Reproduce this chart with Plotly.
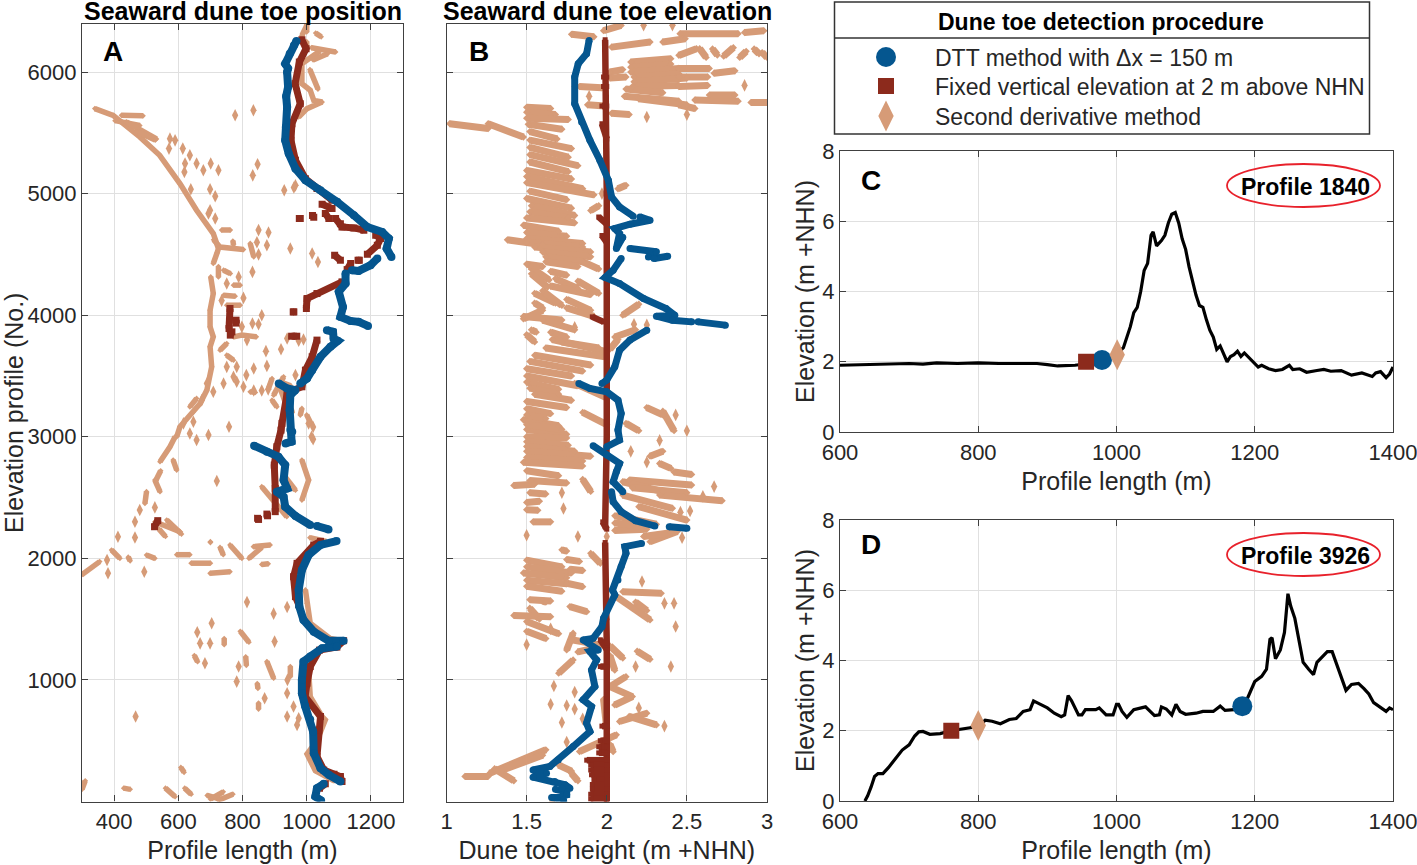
import plotly.graph_objects as go

# ---------- Panel A: dune toe position (profile length m, profile no.) ----------
blue_a = [
 [(968,6255),(960,6219),(947,6150),(933,6068),(942,6030),(939,6000),(942,5877),(936,5800),(939,5712),(935,5548),(933,5438),(944,5329),(965,5205),(996,5110),(1043,5027),(1095,4932),(1147,4822),(1189,4726),(1235,4685),(1256,4630),(1249,4548),(1264,4479)],
 [(1220,4466),(1199,4411),(1162,4364),(1141,4370)],
 [(1121,4342),(1121,4260),(1100,4192),(1113,4068),(1105,3986),(1136,3953),(1162,3945),(1191,3912)],
 [(1063,3877),(1082,3863),(1084,3808),(1097,3789),(1074,3740),(1043,3658),(1017,3548),(1001,3480),(980,3438)],
 [(913,3438),(939,3397),(965,3384),(949,3342),(947,3219),(949,3055),(955,3041),(953,2960),(934,2945)],
 [(836,2926),(876,2877),(912,2836),(933,2767),(928,2644),(939,2575),(907,2548),(928,2507),(933,2425),(965,2348),(1011,2274)],
 [(1032,2266),(1068,2238)],
 [(1093,2142),(1043,2110),(1006,2027),(985,1904),(975,1740),(977,1603),(990,1493),(1022,1397),(1068,1323),(1115,1323)],
 [(1094,1274),(1048,1260),(1011,1192),(990,1151),(985,1000),(985,890),(995,785),(1011,675),(1020,575),(1022,397),(1043,274),(1069,219),(1105,164)],
 [(1053,145),(1032,110),(1027,41),(1045,8)],
]
red_a = [
 [(985,6266),(998,6192),(977,6082),(964,5904),(980,5740),(954,5575),(951,5438),(965,5274),(996,5123),(1032,5041),(1079,4945)],
 [(1048,4912),(1079,4877)],[(1058,4836),(1069,4795)],[(977,4795),(980,4795)],[(1018,4820),(1022,4805)],
 [(1090,4795),(1105,4753),(1110,4726),(1147,4718),(1178,4699)],
 [(1215,4658),(1230,4630),(1220,4575),(1189,4501)],
 [(1087,4493),(1105,4452)],[(1160,4452),(1164,4452)],[(1137,4425),(1126,4375)],
 [(1110,4274),(1032,4178),(1001,4137),(999,4055)],[(958,4027),(960,4027)],
 [(761,4055),(758,3890)],[(780,3959),(780,3935)],[(767,3863),(762,3836)],
 [(953,3827),(969,3827)],
 [(1032,3795),(1017,3658),(996,3548),(985,3411),(960,3384),(939,3356),(923,3110),(920,3055),(907,2918),(899,2767),(902,2575),(902,2384)],
 [(876,2364),(878,2350)],[(847,2329),(850,2320)],[(526,2260),(536,2310)],
 [(1043,2140),(1022,2110),(970,1959),(959,1849),(965,1685),(975,1620)],
 [(1115,1323),(1094,1270),(1040,1245),(1011,1110),(1001,973),(995,863),(1043,699),(1038,589),(1032,370),(1053,260),(1085,225),(1105,205),(1110,164)],
 [(1058,145),(1040,110)],
]
peach_a = [
 [(340,5699),(397,5644),(480,5466),(542,5315),(605,5082),(657,4863),(709,4671),(725,4548),(720,4507),(709,4425)],
 [(423,5644),(490,5640)],[(403,5600),(480,5560)],[(438,5590),(532,5450)],[(470,5510),(528,5440)],
 [(725,4400),(725,4315)],[(701,4315),(709,4178),(699,4041),(699,3904),(709,3822),(699,3740),(704,3575),(689,3384),(668,3274),(647,3205),(605,3082),(595,3000)],
 [(735,4700),(762,4700)],[(710,4620),(730,4560),(803,4540)],[(770,4610),(772,4580)],[(824,4590),(835,4480)],[(850,4500)],[(850,4700)],[(881,4680)],[(876,4575)],[(845,4600)],[(949,4548)],[(1017,4507)],[(1035,4438)],[(831,4356)],
 [(741,4370),(762,4342)],[(788,4315)],[(772,4247),(793,4247)],[(751,4260)],[(741,4164),(777,4156)],[(803,4142)],[(751,4082),(793,4082)],[(735,4120)],
 [(798,3904)],[(831,3932)],[(850,3926)],[(772,3822),(798,3836),(843,3822)],[(814,3795)],[(751,3767),(730,3712)],[(751,3671),(772,3630)],[(782,3575)],[(751,3575)],[(772,3493)],[(741,3438)],[(782,3452)],[(803,3411)],[(812,3507)],[(835,3561)],[(824,3370),(840,3365)],[(873,3704)],[(920,3720)],[(876,3583)],[(965,3507)],[(939,3808)],
 [(892,3479),(881,3397)],[(897,3342),(928,3493)],[(892,3301),(907,3246)],[(985,3233),(980,3178)],[(1006,3110)],[(945,3290),(955,3200)],
 [(657,3315),(636,3246)],[(689,3438)],[(709,3370)],[(673,3301)],[(647,3123)],[(616,3110)],[(758,3082)],[(636,3027)],[(657,2973)],[(694,3014)],[(720,2636)],
 [(590,3000),(574,2918),(543,2795)],[(584,2808),(595,2726)],[(527,2644),(543,2548)],[(501,2548),(496,2452)],[(527,2419)],[(480,2397)],[(465,2301)],[(545,2720),(530,2640)],
 [(860,2589),(938,2343)],[(985,2808),(1006,2644),(985,2479)],[(930,2680),(965,2560)],[(1010,2170),(1060,2140)],
 [(527,2301),(605,2219)],[(564,2315),(610,2200)],[(540,2240),(560,2180)],
 [(298,1863),(355,1973)],[(392,2068),(418,2000)],[(444,2010),(450,1980)],[(501,2027),(527,2000)],[(595,2030),(636,2030)],[(700,2137),(700,2130)],[(730,2090),(740,2030)],[(761,2110),(798,2000)],[(834,2096),(886,2110)],[(820,2000),(860,2090)],[(699,1877),(761,1890)],[(640,1960),(700,1960)],[(860,1950),(880,1955)],
 [(996,1740),(1001,1630),(1011,1466),(1073,1342),(1115,1320)],[(1075,1290),(1040,1240),(1006,1082),(1011,863),(1048,699),(1058,671),(1032,500),(1001,390),(1027,252),(1085,170)],
 [(743,1340),(743,1290)],[(793,1400),(820,1310)],[(650,1200),(660,1150)],[(810,1190),(812,1120)],[(876,1151),(897,1014)],[(949,1110),(949,1027)],[(846,970),(848,930)],[(850,810),(850,760)],
 [(608,280),(618,240)],[(300,100),(310,170)],[(430,110),(450,100)],[(560,110),(590,40)],[(620,110),(640,60)],[(700,20),(740,80)],[(725,10),(770,60)],[(690,50),(730,20)],
 [(1000,6330),(1000,6395)],[(985,6300),(1000,6380)],[(1015,6200),(1090,6165)],[(1040,6170),(985,6068),(985,5904),(1011,5850),(1022,5767),(1048,5753),(1001,5699),(975,5630)],[(1028,6320),(1045,6290)],[(1020,6100),(1065,6150)],[(1010,6020),(1035,5860)],[(1000,6250),(1000,6200)],
 [(777,5644)],[(834,5685)],[(574,5452)],[(590,5438)],[(571,5370)],[(614,5370)],[(636,5315)],[(621,5247)],[(657,5247)],[(701,5247)],[(847,5241)],[(619,5178)],[(678,5192)],[(725,5192)],[(832,5150)],[(699,5036)],[(715,4978)],[(639,5036)],[(699,4863)],[(694,4836)],[(715,4795)],[(930,5027)],[(965,5068)],[(960,5050)],
 [(860,4000)],[(990,3800)],[(975,3790)],[(835,3380)],[(860,3380)],[(880,3390)],
 [(920,3450),(950,3420)],[(920,3380),(935,3270)],[(1000,3180),(1015,3100)],[(1020,3080)],[(1015,3000)],[(1020,2980)],
 [(412,2178)],[(465,2172)],[(381,1877)],[(378,1986)],[(494,1890)],[(814,1640)],[(939,1600)],[(897,1545)],[(659,1392)],[(704,1466)],[(668,1301)],[(699,1301)],[(900,1315)],[(683,1137)],[(788,1110)],[(782,986)],[(869,849)],[(939,890)],[(959,781)],[(939,699)],[(975,685)],[(970,630)],[(467,699)],[(940,1000)],
]

# ---------- Panel B: dune toe elevation (m +NHN, profile no.) ----------
blue_b = [
 [(1.89,6260),(1.874,6150),(1.822,6068),(1.80,5959),(1.80,5740),(1.843,5589),(1.895,5438),(1.957,5274),(2.01,5110),(2.03,4973),(2.08,4890),(2.165,4814)],
 [(2.207,4808),(2.27,4781),(2.145,4748),(2.05,4712),(2.08,4671),(2.06,4548),(2.10,4640)],
 [(2.145,4548),(2.31,4521),(2.26,4479)],[(2.295,4466),(2.38,4485)],
 [(2.09,4466),(2.04,4370),(1.99,4310),(2.08,4260),(2.23,4137),(2.37,4055),(2.425,4000),(2.31,3992),(2.41,3959),(2.53,3945)],
 [(2.57,3945),(2.74,3918)],
 [(2.25,3877),(2.145,3795),(2.08,3712),(2.05,3575),(2.0,3466),(1.97,3438)],
 [(1.826,3438),(1.895,3397),(2.0,3370),(2.07,3301),(2.09,3192),(2.07,3055),(2.08,2973),(2.0,2918)],
 [(1.915,2926),(2.0,2849),(2.08,2781),(2.06,2712),(2.04,2630),(2.10,2548)],
 [(2.03,2548),(2.04,2466),(2.09,2384),(2.18,2310),(2.30,2266)],
 [(2.39,2260),(2.50,2247)],
 [(2.217,2123),(2.113,2096),(2.12,2041),(2.09,1932),(2.07,1822),(2.036,1740),(2.05,1699),(1.98,1507),(1.97,1438),(1.915,1342),(1.853,1329),(1.947,1247),(1.895,1233),(1.937,1164),(1.905,1082),(1.926,945),(1.853,836),(1.905,781),(1.874,644),(1.895,575),(1.79,452),(1.697,342),(1.645,288),(1.54,260),(1.624,233),(1.54,200),(1.676,164),(1.74,137),(1.77,110),(1.68,100),(1.75,80),(1.75,55),(1.656,33),(1.73,14),(1.72,110)],
]
red_b = [
 [(1.99,6265),(2.0,5000),(2.0,3000),(1.99,2260)],
 [(1.99,2130),(2.0,1300),(2.0,0)],
 [(1.97,5575),(2.0,5450)],[(1.95,4808),(2.0,4750)],[(1.97,4655),(2.0,4600)],[(1.91,3986),(1.98,3945)],[(1.975,2300),(2.0,2240)],
 [(1.96,500),(2.0,500)],[(1.95,450),(2.0,450)],[(1.95,400),(2.0,400)],[(1.875,340),(2.0,340)],[(1.9,300),(2.0,300)],[(1.9,260),(2.0,260)],[(1.905,220),(2.0,220)],[(1.92,180),(2.0,180)],[(1.91,140),(2.0,140)],[(1.91,100),(2.0,100)],[(1.9,60),(2.0,60)],[(1.9,20),(2.0,20)],
 [(1.98,5959),(2.0,5959)],[(1.98,5880),(2.0,5880)],[(1.97,5720),(2.0,5720)],[(1.96,1330),(2.0,1250)],[(1.96,1110),(2.0,1110)],[(1.97,620),(2.0,620)],
]
peach_b = [
 [(1.98,6340),(2.09,6383)],[(1.78,6310),(1.92,6290)],[(2.23,6385)],[(2.41,6385)],
 [(2.457,6315),(2.82,6315)],[(2.86,6325),(2.98,6340)],[(2.03,6205),(2.27,6247)],[(2.35,6247),(2.49,6274)],[(2.45,6137),(2.56,6192)],[(2.58,6192),(2.62,6120)],[(2.66,6190),(2.69,6140)],[(2.73,6130),(2.79,6200)],[(2.83,6120),(2.87,6170)],[(2.92,6190),(2.95,6150)],[(2.97,6160),(3.0,6120)],
 [(2.15,6082),(2.40,6110)],[(2.15,6040),(2.40,6065)],[(2.15,6000),(2.45,6030)],[(2.17,5960),(2.45,5985)],[(2.17,5920),(2.50,5950)],[(2.02,6000),(2.10,6020)],[(2.02,5950),(2.12,5960)],
 [(2.45,6030),(2.64,6030)],[(2.45,5960),(2.63,5960)],[(2.45,5880),(2.63,5890)],[(2.67,5990),(2.8,6010)],[(2.16,5880),(2.45,5890)],
 [(2.11,5800),(2.45,5760)],[(2.12,5860),(2.35,5830)],[(2.2,5780),(2.5,5730)],[(2.45,5730),(2.55,5700)],[(2.55,5770),(2.82,5760)],[(2.64,5810),(2.8,5810)],[(2.9,5750),(3.0,5750)],[(1.83,5880),(1.97,5870)],[(1.88,5730),(1.99,5720)],[(2.03,5660),(2.14,5650)],[(2.86,5890)],[(2.25,5630)],[(2.5,5650)],[(1.89,5800)],[(1.8,5880)],
 [(1.02,5575),(1.26,5535)],[(1.26,5575),(1.48,5465)],
 [(1.5,5710),(1.65,5700)],[(1.5,5670),(1.68,5650)],[(1.5,5620),(1.76,5610)],[(1.51,5570),(1.72,5530)],[(1.52,5510),(1.69,5450)],[(1.52,5440),(1.78,5370)],[(1.52,5380),(1.76,5300)],[(1.52,5320),(1.82,5230)],[(1.52,5260),(1.76,5180)],[(1.5,5190),(1.78,5120)],[(1.5,5140),(1.85,5040)],[(1.5,5090),(1.92,4990)],[(1.52,5020),(1.75,4950)],[(1.5,4960),(1.78,4880)],[(1.53,4900),(1.8,4820)],[(1.52,4850),(1.76,4800)],[(1.5,4800),(1.8,4760)],[(1.48,4740),(1.7,4690)],[(1.5,4680),(1.75,4650)],[(1.38,4620),(1.6,4580)],[(1.5,4630),(1.85,4590)],[(1.5,4600),(1.85,4560)],[(1.55,4560),(1.9,4520)],[(1.6,4520),(1.9,4480)],[(1.62,4480),(1.85,4440)],[(1.62,4440),(1.82,4400)],
 [(1.52,4400),(1.64,4290)],[(1.53,4340),(1.63,4230)],[(1.5,4420),(1.6,4400)],[(1.65,4360),(1.75,4330)],[(1.85,4440),(1.95,4380)],[(1.68,4300),(1.82,4220)],[(1.55,4180),(1.68,4100)],[(1.75,4060),(1.92,3990)],[(1.82,4280),(1.95,4180)],[(1.65,4240),(1.9,4170)],[(1.6,4200),(1.72,4080)],[(1.75,4130),(1.9,4040)],[(1.55,4100),(1.6,4060)],[(1.48,3970),(1.6,4040)],[(1.48,3990),(1.72,3960)],[(1.6,3960),(1.8,3880)],[(1.53,3880),(1.56,3860)],[(1.65,3860),(1.75,3820)],[(1.72,3780),(1.95,3730)],[(1.5,3840),(1.55,3780)],[(1.66,3800),(2.0,3700)],[(1.62,3730),(1.98,3660)],[(1.55,3670),(1.9,3590)],[(1.52,3620),(1.85,3540)],[(1.5,3560),(1.78,3500)],[(1.5,3500),(1.82,3420)],[(1.5,3450),(1.7,3390)],[(1.52,3400),(1.7,3350)],[(1.8,3440),(2.0,3320)],[(1.5,3290),(1.75,3240)],[(1.5,3230),(1.65,3190)],[(1.48,3140),(1.7,3090)],[(1.5,3060),(1.75,3020)],[(1.85,3200),(2.0,3100)],[(1.55,3350),(1.78,3300)],[(1.5,3180),(1.62,3150)],[(1.5,3100),(1.72,3060)],
 [(2.07,5040),(2.12,5068)],[(1.95,4900),(1.9,4860)],[(1.97,5000)],[(2.05,3820),(2.18,3880)],[(2.25,3920)],[(2.17,3925)],[(2.35,3210),(2.42,3050)],[(2.25,3240),(2.35,3180)],[(2.5,3050)],[(2.43,3180)],[(2.12,3110),(2.2,3050)],[(2.1,4000),(2.2,4090)],[(1.8,3900)],[(2.02,3720),(2.07,3800)],
 [(1.5,3000),(1.75,2990)],[(1.5,2960),(1.76,2930)],[(1.5,2920),(1.8,2880)],[(1.5,2880),(1.9,2840)],[(1.5,2830),(1.85,2800)],[(1.48,2790),(1.85,2760)],[(1.5,2720),(1.7,2680)],[(1.52,2640),(1.75,2620)],[(1.42,2600),(1.55,2610)],[(1.52,2540),(1.62,2530)],[(1.5,2460),(1.58,2470)],[(1.5,2400),(1.57,2395)],[(1.54,2300),(1.65,2300)],[(1.72,2540)],[(1.85,2650),(1.9,2550)],[(1.73,2410)],[(1.5,2190)],[(1.82,2180)],
 [(2.33,2780),(2.40,2740)],[(2.14,2644),(2.53,2603)],[(2.10,2630),(2.35,2548)],[(2.42,2710),(2.53,2690)],[(2.16,2580),(2.50,2540)],[(2.33,2520),(2.72,2474)],[(2.10,2520),(2.41,2411)],[(2.2,2425),(2.5,2315)],[(2.27,2840),(2.35,2880)],[(2.25,2790)],[(2.15,2880)],[(2.33,2970)],[(2.67,2590)],[(2.6,2510)],[(2.52,2390)],[(2.46,2380)],
 [(2.05,2350),(2.31,2280)],[(2.05,2230),(2.25,2240)],[(2.05,2290),(2.25,2260)],[(2.27,2137),(2.44,2220)],[(2.23,2180),(2.4,2210)],[(2.0,2180)],[(2.47,2170)],
 [(1.72,2070),(1.75,2060)],[(1.75,1990),(1.83,1975)],[(1.9,2041),(1.96,1959)],[(1.77,1910),(1.85,1900)],[(1.75,1795),(1.85,1767)],[(1.77,1603),(1.875,1561)],
 [(1.5,1985),(1.72,1930)],[(1.5,1930),(1.78,1880)],[(1.48,1880),(1.75,1840)],[(1.5,1820),(1.75,1790)],[(1.5,1770),(1.72,1730)],[(1.52,1660),(1.65,1650)],[(1.6,1650),(1.62,1640)],[(1.52,1590),(1.58,1500)],[(1.42,1530),(1.65,1520)],[(1.5,1480),(1.7,1380)],[(1.5,1400),(1.62,1340)],[(1.5,1290)],[(1.65,1420)],
 [(2.10,1726),(2.34,1712)],[(2.06,1685),(2.27,1493)],[(2.18,1640),(2.25,1570)],[(2.36,1630)],[(2.42,1630)],[(2.22,1810)],[(2.43,1440)],[(2.0,1500)],
 [(1.79,1384),(1.75,1247)],[(1.78,1330),(1.95,1290)],[(1.82,1230),(1.95,1270)],[(1.70,1055),(1.79,1164)],[(2.02,1280),(2.1,1180)],[(2.05,1080),(2.02,1200)],[(2.19,1236),(2.27,1170)],[(2.18,1110)],[(2.4,1110)],[(1.67,950)],[(1.8,900)],
 [(2.12,1027),(2.02,945),(2.16,863),(2.05,794)],[(2.25,726),(2.08,658)],[(2.31,630),(2.14,700)],[(2.36,620)],[(1.98,840),(2.0,600)],[(2.2,770)],
 [(2.06,548),(1.83,411)],[(1.75,490)],[(2.02,470),(2.04,410)],
 [(1.62,425),(1.27,233)],[(1.115,206),(1.26,206)],[(1.3,270),(1.42,170)],[(1.6,380),(1.35,260)],[(1.78,230),(1.82,170)],[(1.66,5)],[(1.7,300),(1.78,250)],
 [(1.65,800)],[(1.72,650)],[(1.75,790)],[(1.8,760)],[(1.85,680)],
]

# ---------- Panels C and D: elevation profiles ----------
c_length = [600,650,700,720,740,770,790,800,830,850,870,885,900,915,940,960,980,1000,1010,1015,1020,1025,1030,1035,1040,1045,1050,1053,1058,1065,1070,1075,1080,1085,1090,1095,1100,1105,1110,1115,1120,1125,1130,1135,1140,1145,1150,1155,1160,1165,1170,1175,1180,1185,1190,1200,1205,1210,1220,1230,1240,1250,1255,1265,1275,1290,1300,1310,1325,1340,1355,1370,1375,1382,1390,1395,1400]
c_elev = [1.9,1.92,1.95,1.93,1.97,1.95,1.97,1.97,1.95,1.95,1.93,1.95,1.92,1.88,1.9,1.95,2.05,2.2,2.4,2.7,3.0,3.4,3.55,4.0,4.6,4.8,5.6,5.7,5.3,5.45,5.6,5.95,6.2,6.25,5.95,5.5,5.2,4.7,4.3,3.9,3.6,3.55,3.2,2.9,2.7,2.35,2.45,2.2,2.0,2.15,2.2,2.3,2.15,2.25,2.15,1.95,1.85,1.9,1.8,1.75,1.78,1.9,1.78,1.8,1.7,1.75,1.78,1.73,1.75,1.62,1.68,1.58,1.68,1.72,1.55,1.65,1.85]
d_length = [636,640,645,650,655,662,670,680,690,700,708,714,720,730,745,760,780,800,810,820,832,845,855,865,875,880,890,900,910,920,925,930,935,945,950,955,970,975,985,995,1000,1003,1008,1015,1025,1035,1042,1055,1062,1065,1072,1080,1086,1092,1100,1115,1125,1140,1150,1157,1170,1182,1190,1200,1210,1217,1222,1225,1230,1237,1243,1248,1252,1258,1265,1270,1278,1285,1290,1298,1305,1312,1318,1325,1332,1340,1350,1358,1365,1372,1385,1390,1395,1400]
d_elev = [0,0.15,0.4,0.7,0.78,0.78,0.95,1.2,1.45,1.6,1.85,1.97,1.98,1.9,1.92,2.0,2.05,2.12,2.3,2.27,2.2,2.32,2.35,2.55,2.6,2.85,2.75,2.65,2.5,2.4,2.45,3.0,2.85,2.45,2.45,2.6,2.6,2.65,2.45,2.45,2.75,2.75,2.55,2.38,2.6,2.65,2.68,2.43,2.45,2.68,2.62,2.45,2.75,2.55,2.47,2.5,2.55,2.55,2.7,2.58,2.6,2.7,2.95,3.4,3.55,3.75,4.6,4.65,4.05,4.3,4.8,5.9,5.55,5.2,4.5,3.95,3.75,3.6,3.95,4.1,4.25,4.25,3.9,3.5,3.15,3.32,3.35,3.2,3.05,2.8,2.6,2.55,2.65,2.6]
c_toe_x = {"blue": 979, "red": 956, "peach": 1001}
c_toe_y = {"blue": 2.05, "red": 2.0, "peach": 2.2}
d_toe_x = {"blue": 1182, "red": 761, "peach": 800}
d_toe_y = {"blue": 2.7, "red": 2.0, "peach": 2.15}

method_labels = ["DTT method with \u0394x = 150 m", "Fixed vertical elevation at 2 m above NHN", "Second derivative method"]
legend_title = "Dune toe detection procedure"

BLUE, RED, PEACH = "#05568F", "#8C2A1C", "#D69B77"
FONT = "Liberation Sans"
INK = "#262626"
W, H = 1417, 865


def flat(segs):
    xs, ys = [], []
    for s in segs:
        xs += [p[0] for p in s] + [None]
        ys += [p[1] for p in s] + [None]
    return xs, ys


def px(v):
    return v / W


def py(v):
    return 1 - v / H


fig = go.Figure()


def add_strip(segs, color, width, axis, symbol, size):
    xs, ys = flat(segs)
    fig.add_trace(go.Scatter(x=xs, y=ys, mode="lines+markers", xaxis="x" + axis, yaxis="y" + axis,
                             line=dict(color=color, width=width), connectgaps=False,
                             marker=dict(color=color, symbol=symbol, size=size, line=dict(width=0)),
                             showlegend=False, hoverinfo="skip"))


def add_peach(segs, width, axis):
    # streaks of touching diamonds are drawn as thick strokes; lone points as single diamonds
    add_strip([s for s in segs if len(s) > 1], PEACH, width, axis, "diamond", width * 0.8)
    xs, ys = flat([s for s in segs if len(s) == 1])
    fig.add_trace(go.Scatter(x=xs, y=ys, mode="markers", xaxis="x" + axis, yaxis="y" + axis,
                             marker=dict(color=PEACH, symbol="diamond-tall", size=9, line=dict(width=0)),
                             showlegend=False, hoverinfo="skip"))


add_peach(peach_a, 5.5, "")
add_strip(red_a, RED, 7, "", "square", 7)
add_strip(blue_a, BLUE, 8, "", "circle", 8)
add_peach(peach_b, 7, "2")
add_strip(red_b, RED, 6.5, "2", "square", 5)
add_strip(blue_b, BLUE, 7, "2", "circle", 7)


def add_profile(xs, ys, toe_x, toe_y, axis):
    fig.add_trace(go.Scatter(x=xs, y=ys, mode="lines", xaxis="x" + axis, yaxis="y" + axis,
                             line=dict(color="black", width=3.2), showlegend=False, hoverinfo="skip"))
    for key, color, sym, size in (("blue", BLUE, "circle", 20), ("red", RED, "square", 16), ("peach", PEACH, "diamond-tall", 22)):
        fig.add_trace(go.Scatter(x=[toe_x[key]], y=[toe_y[key]], mode="markers", xaxis="x" + axis, yaxis="y" + axis,
                                 marker=dict(color=color, symbol=sym, size=size, line=dict(width=0)),
                                 showlegend=False, hoverinfo="skip", cliponaxis=False))


add_profile(c_length, c_elev, c_toe_x, c_toe_y, "3")
add_profile(d_length, d_elev, d_toe_x, d_toe_y, "4")

# legend glyphs on a private full-page axis pair
for yy, color, sym, size in ((57, BLUE, "circle", 20), (86, RED, "square", 16), (116, PEACH, "diamond-tall", 22)):
    fig.add_trace(go.Scatter(x=[886], y=[yy], mode="markers", xaxis="x5", yaxis="y5",
                             marker=dict(color=color, symbol=sym, size=size, line=dict(width=0)),
                             showlegend=False, hoverinfo="skip"))

axis_common = dict(showline=True, linecolor="#404040", linewidth=1.2, mirror="ticks", ticks="inside", ticklen=6,
                   tickcolor="#404040", tickwidth=1.2, showgrid=True, gridcolor="#E0E0E0", gridwidth=1.3,
                   zeroline=False, tickfont=dict(family=FONT, size=22, color=INK), automargin=False,
                   ticklabeloverflow="allow")
title_font = dict(family=FONT, size=25, color=INK)

layout = dict(
    width=W, height=H, margin=dict(l=0, r=0, t=0, b=0), paper_bgcolor="white", plot_bgcolor="rgba(0,0,0,0)",
    font=dict(family=FONT), showlegend=False,
    xaxis=dict(domain=[px(82), px(403)], range=[300, 1300], tickvals=[400, 600, 800, 1000, 1200],
               title=dict(text="Profile length (m)", font=title_font, standoff=8), **axis_common),
    yaxis=dict(domain=[py(801.5), py(24)], range=[0, 6395], tickvals=[1000, 2000, 3000, 4000, 5000, 6000],
               title=dict(text="Elevation profile (No.)", font=title_font, standoff=6), **axis_common),
    xaxis2=dict(domain=[px(446.5), px(767)], range=[1, 3], tickvals=[1, 1.5, 2, 2.5, 3], ticktext=["1", "1.5", "2", "2.5", "3"],
                anchor="y2", title=dict(text="Dune toe height (m +NHN)", font=title_font, standoff=8), **axis_common),
    yaxis2=dict(domain=[py(801.5), py(24)], range=[0, 6395], tickvals=[1000, 2000, 3000, 4000, 5000, 6000],
                anchor="x2", showticklabels=False, **axis_common),
    xaxis3=dict(domain=[px(840), px(1393)], range=[600, 1400], tickvals=[600, 800, 1000, 1200, 1400], anchor="y3",
                title=dict(text="Profile length (m)", font=title_font, standoff=8), **axis_common),
    yaxis3=dict(domain=[py(432), py(151)], range=[0, 8], tickvals=[0, 2, 4, 6, 8], anchor="x3",
                title=dict(text="Elevation (m +NHN)", font=title_font, standoff=0), **axis_common),
    xaxis4=dict(domain=[px(840), px(1393)], range=[600, 1400], tickvals=[600, 800, 1000, 1200, 1400], anchor="y4",
                title=dict(text="Profile length (m)", font=title_font, standoff=8), **axis_common),
    yaxis4=dict(domain=[py(801), py(520)], range=[0, 8], tickvals=[0, 2, 4, 6, 8], anchor="x4",
                title=dict(text="Elevation (m +NHN)", font=title_font, standoff=0), **axis_common),
    xaxis5=dict(domain=[0, 1], range=[0, W], visible=False, anchor="y5"),
    yaxis5=dict(domain=[0, 1], range=[H, 0], visible=False, anchor="x5"),
)
fig.update_layout(**layout)


def note(text, x, y, size, bold=False, anchor="center", color="black"):
    fig.add_annotation(text=f"<b>{text}</b>" if bold else text, x=px(x), y=py(y), xref="paper", yref="paper",
                       showarrow=False, xanchor=anchor, yanchor="middle",
                       font=dict(family=FONT, size=size, color=color))


note("Seaward dune toe position", 243, 11, 25, True)
note("Seaward dune toe elevation", 607, 11, 25, True)
note("A", 113, 51, 28, True)
note("B", 479, 51, 28, True)
note("C", 871, 181, 28, True)
note("D", 871, 544, 28, True)
note("Profile 1840", 1305, 187, 23, True)
note("Profile 3926", 1305, 556, 23, True)
note(legend_title, 1101, 22, 23, True)
for label, yy in zip(method_labels, (58, 87, 117)):
    note(label, 933, yy, 23, False, "left", INK)

shapes = [
    dict(type="rect", xref="paper", yref="paper", x0=px(834.5), x1=px(1369.5), y0=py(134), y1=py(2), line=dict(color="#333333", width=1.5)),
    dict(type="line", xref="paper", yref="paper", x0=px(834.5), x1=px(1369.5), y0=py(38), y1=py(38), line=dict(color="#333333", width=1.5)),
    dict(type="circle", xref="paper", yref="paper", x0=px(1227), x1=px(1380), y0=py(207), y1=py(164), line=dict(color="#E8212B", width=1.8)),
    dict(type="circle", xref="paper", yref="paper", x0=px(1227), x1=px(1380), y0=py(576), y1=py(533), line=dict(color="#E8212B", width=1.8)),
]
fig.update_layout(shapes=shapes)

fig.write_html("out.html", config={"displayModeBar": False},
               post_script="document.documentElement.style.margin='0';document.body.style.margin='0';")
